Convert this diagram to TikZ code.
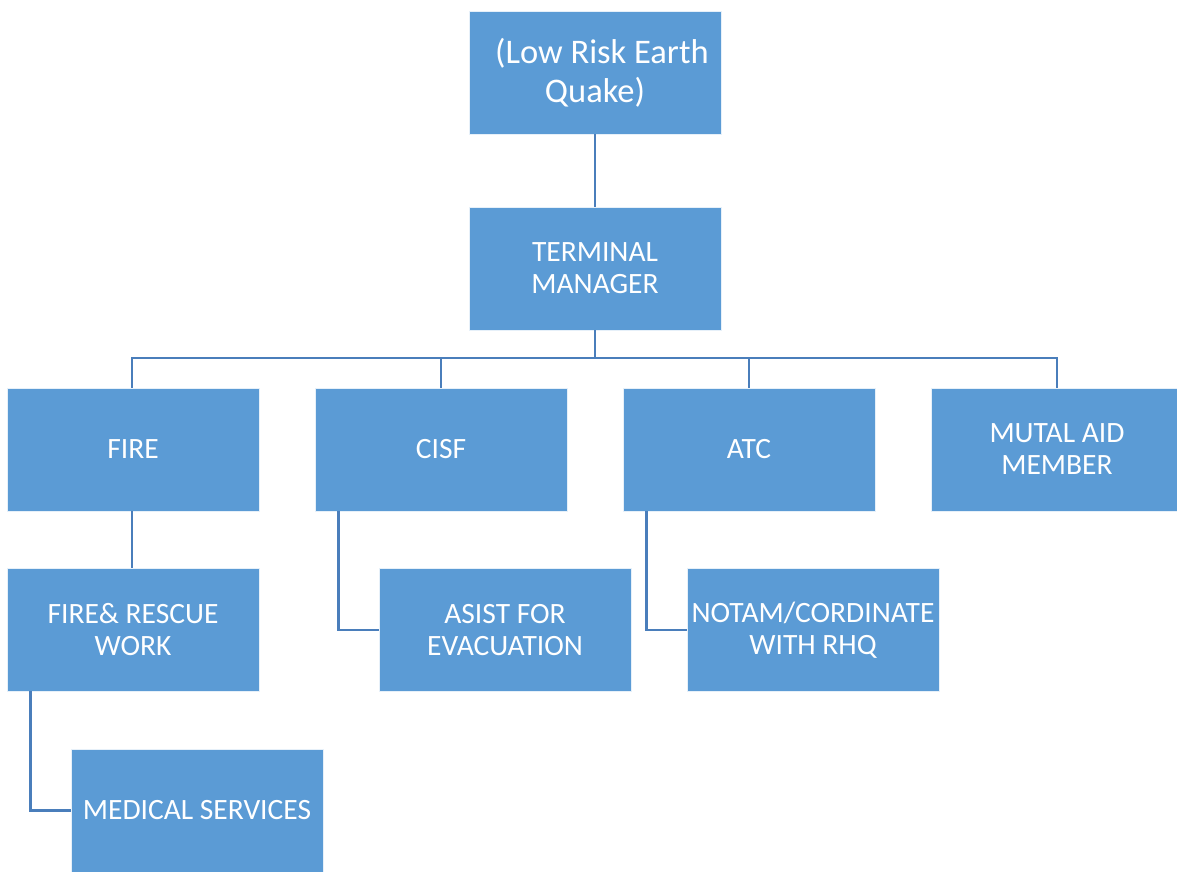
\documentclass[tikz,border=0pt]{standalone}
\usepackage{fontspec}
\setmainfont{Carlito}
\usepackage{tikz}
\usetikzlibrary{positioning}
\definecolor{boxblue}{RGB}{91,155,213}
\definecolor{lineblue}{RGB}{74,126,187}

\begin{document}
\begin{tikzpicture}[
        x=1pt, y=-1pt,
        unit/.style={rectangle, draw=white!85!boxblue, fill=boxblue, line width=0.8pt, minimum width=252pt, minimum height=123pt, inner sep=2pt, align=center, text=white, font=\fontsize{29.5}{32}\selectfont},
        conn/.style={lineblue, line width=2.4pt},
        node distance=55.2pt
    ]
        \useasboundingbox (0,0) rectangle (1177,872);

        % Nodes
        \node (quake) [unit, font=\fontsize{34.5}{39}\selectfont] at (595,72.5) {\hspace*{0.4em}(Low Risk Earth\\Quake)};
        \node (tm) [unit, below=72.2pt of quake] {TERMINAL\\MANAGER};
        \node (fire) [unit] at (133,449.5) {FIRE};
        \node (cisf) [unit, right=of fire] {CISF};
        \node (atc) [unit, right=of cisf] {ATC};
        \node (mutal) [unit, right=of atc] {MUTAL AID\\MEMBER};
        \node (rescue) [unit, below=56.2pt of fire] {FIRE\& RESCUE\\WORK};
        \node (asist) [unit] at (505,630) {ASIST FOR\\EVACUATION};
        \node (notam) [unit] at (813,630) {NOTAM/CORDINATE\\WITH RHQ};
        \node (medical) [unit] at (197,810.5) {MEDICAL SERVICES};
        \coordinate (bus) at (595,358);

        % Connectors
        \draw [conn] (quake) -- (tm);
        \draw [conn] (tm.south) -- (bus) -| ([xshift=-1pt]fire.north);
        \draw [conn] (bus) -| (cisf.north);
        \draw [conn] (bus) -| (atc.north);
        \draw [conn] (bus) -| (mutal.north);
        \draw [conn] ([xshift=-1pt]fire.south) -- ([xshift=-1pt]rescue.north);
        \draw [conn] ([xshift=24pt]cisf.south west) |- (asist.west);
        \draw [conn] ([xshift=24pt]atc.south west) |- (notam.west);
        \draw [conn] ([xshift=24pt]rescue.south west) |- (medical.west);

    \end{tikzpicture}
\end{document}
